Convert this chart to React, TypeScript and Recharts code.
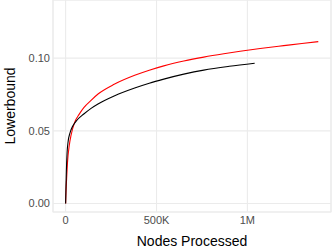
import React from "react";
import {
  LineChart,
  Line,
  XAxis,
  YAxis,
  CartesianGrid,
  ReferenceArea,
} from "recharts";

// nodes processed (millions) and lowerbound values
const redNodes = [0, 0.002, 0.005, 0.01, 0.02, 0.03, 0.05, 0.075, 0.1, 0.14, 0.18, 0.27, 0.38, 0.46, 0.54, 0.65, 0.76, 0.87, 0.96, 1.07, 1.2, 1.3, 1.39];
const redValues = [0, 0.008, 0.016, 0.028, 0.04, 0.047, 0.056, 0.0615, 0.066, 0.071, 0.0755, 0.0822, 0.0882, 0.0917, 0.0947, 0.098, 0.1007, 0.103, 0.1047, 0.1066, 0.1086, 0.1101, 0.1114];

const blackNodes = [0, 0.002, 0.004, 0.008, 0.013, 0.025, 0.04, 0.06, 0.1, 0.14, 0.178, 0.27, 0.38, 0.46, 0.54, 0.65, 0.76, 0.9, 1.04];
const blackValues = [0, 0.012, 0.022, 0.035, 0.042, 0.049, 0.0535, 0.057, 0.0616, 0.0655, 0.0685, 0.0742, 0.0795, 0.0828, 0.0856, 0.089, 0.0918, 0.0944, 0.0965];

const xTicks = [0, 500000, 1000000];
const xTickLabels = ["0", "500K", "1M"];
const yTicks = [0, 0.05, 0.1];

const redData = redNodes.map((n, i) => ({ x: n * 1e6, y: redValues[i] }));
const blackData = blackNodes.map((n, i) => ({ x: n * 1e6, y: blackValues[i] }));

const X_DOMAIN = [-69500, 1460000];
const Y_DOMAIN = [-0.0058, 0.14];
const GRID = "#EBEBEB";

export default function App() {
  return (
    <div
      style={{
        position: "absolute",
        left: 0,
        top: 0,
        fontFamily: "'Liberation Sans', Arial, sans-serif",
        background: "#fff",
      }}
    >
      <LineChart width={332} height={249} margin={{ top: 0, right: 1, bottom: 0, left: 0 }}>
        <CartesianGrid stroke={GRID} strokeWidth={1.1} />
        <ReferenceArea
          x1={X_DOMAIN[0]}
          x2={X_DOMAIN[1]}
          y1={Y_DOMAIN[0]}
          y2={Y_DOMAIN[1]}
          fill="none"
          stroke={GRID}
          strokeWidth={1.1}
          ifOverflow="visible"
        />
        <XAxis
          type="number"
          dataKey="x"
          domain={X_DOMAIN}
          allowDataOverflow
          ticks={xTicks}
          tickFormatter={(v) => xTickLabels[xTicks.indexOf(v)] ?? String(v)}
          height={37}
          tickLine={false}
          tickSize={0}
          tickMargin={4}
          axisLine={false}
          tick={{ fill: "#4D4D4D", fontSize: 11 }}
          label={{ value: "Nodes Processed", position: "insideBottom", offset: 3, fill: "#000", fontSize: 14 }}
        />
        <YAxis
          type="number"
          dataKey="y"
          domain={Y_DOMAIN}
          allowDataOverflow
          ticks={yTicks}
          tickFormatter={(v) => v.toFixed(2)}
          width={53}
          tickLine={false}
          tickSize={0}
          tickMargin={3}
          axisLine={false}
          tick={{ fill: "#4D4D4D", fontSize: 11 }}
          label={{
            value: "Lowerbound",
            angle: -90,
            position: "insideLeft",
            offset: 10,
            fill: "#000",
            fontSize: 14,
            style: { textAnchor: "middle" },
          }}
        />
        <Line
          data={redData}
          dataKey="y"
          type="monotone"
          stroke="#FF0000"
          strokeWidth={1.1}
          dot={false}
          isAnimationActive={false}
        />
        <Line
          data={blackData}
          dataKey="y"
          type="monotone"
          stroke="#000000"
          strokeWidth={1.1}
          dot={false}
          isAnimationActive={false}
        />
      </LineChart>
    </div>
  );
}
